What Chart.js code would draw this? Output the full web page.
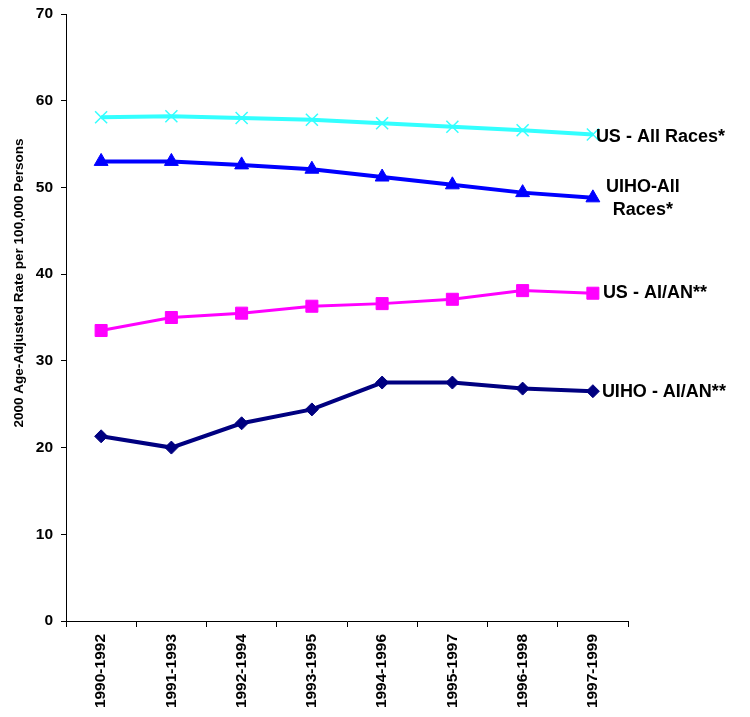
<!DOCTYPE html>
<html>
<head>
<meta charset="utf-8">
<script src="https://cdn.jsdelivr.net/npm/chart.js@4/dist/chart.umd.min.js"></script>
<style>
  html, body { margin: 0; padding: 0; background: #fff; }
  #wrap { width: 750px; height: 717px; }
</style>
</head>
<body>
<div id="wrap"><canvas id="rateChart" width="750" height="717"></canvas></div>
<script>
// periods on the x axis
const periods = ['1990-1992', '1991-1993', '1992-1994', '1993-1995', '1994-1996', '1995-1997', '1996-1998', '1997-1999'];

// age-adjusted rates per 100,000
const usAllRaces   = [58.1, 58.2, 58.0, 57.8, 57.4, 57.0, 56.6, 56.1];
const uihoAllRaces = [53.0, 53.0, 52.6, 52.1, 51.2, 50.3, 49.4, 48.8];
const usAian       = [33.5, 35.0, 35.5, 36.3, 36.6, 37.1, 38.1, 37.8];
const uihoAian     = [21.3, 20.0, 22.8, 24.4, 27.5, 27.5, 26.8, 26.5];

const yTicks = [0, 10, 20, 30, 40, 50, 60, 70];

const FONT = 'Arial, "Liberation Sans", sans-serif';

// end-of-line series labels, drawn next to each line's last point
const seriesLabels = [
  { lines: ['US - All Races*'], dx: 3, dy: 2, align: 'left' },
  { lines: ['UIHO-All', 'Races*'], dx: 50, dy: -11, align: 'center' },
  { lines: ['US - AI/AN**'], dx: 10, dy: 0, align: 'left' },
  { lines: ['UIHO - AI/AN**'], dx: 9, dy: 1, align: 'left' },
];

const endLabels = {
  id: 'endLabels',
  afterDatasetsDraw(chart) {
    const ctx = chart.ctx;
    ctx.save();
    ctx.fillStyle = '#000';
    ctx.font = 'bold 18px ' + FONT;
    ctx.textBaseline = 'middle';
    chart.data.datasets.forEach((ds, i) => {
      const meta = chart.getDatasetMeta(i);
      const pt = meta.data[meta.data.length - 1];
      const lab = seriesLabels[i];
      ctx.textAlign = lab.align;
      lab.lines.forEach((t, k) => {
        ctx.fillText(t, pt.x + lab.dx, pt.y + lab.dy + k * 23);
      });
    });
    ctx.restore();
  }
};

const yTitle = {
  id: 'yTitle',
  afterDraw(chart) {
    const ctx = chart.ctx;
    ctx.save();
    ctx.translate(19, 283);
    ctx.rotate(-Math.PI / 2);
    ctx.font = 'bold 13.5px ' + FONT;
    ctx.fillStyle = '#000';
    ctx.textAlign = 'center';
    ctx.textBaseline = 'middle';
    ctx.fillText('2000 Age-Adjusted Rate per 100,000 Persons', 0, 0);
    ctx.restore();
  }
};

function series(label, data, color, width, style, radius) {
  return {
    label,
    data,
    borderColor: color,
    backgroundColor: color,
    borderWidth: width,
    pointStyle: style,
    pointRadius: radius,
    pointHoverRadius: radius,
    pointBorderWidth: style === 'crossRot' ? 1.5 : 1,
    pointBackgroundColor: color,
    pointBorderColor: color,
    tension: 0,
  };
}

new Chart(document.getElementById('rateChart'), {
  type: 'line',
  data: {
    labels: periods,
    datasets: [
      series('US - All Races*', usAllRaces, '#33ffff', 4, 'crossRot', 8.5),
      series('UIHO-All Races*', uihoAllRaces, '#0000ff', 4, 'triangle', 8),
      series('US - AI/AN**', usAian, '#ff00ff', 3, 'rect', 8.5),
      series('UIHO - AI/AN**', uihoAian, '#000080', 4, 'rectRot', 6.5),
    ],
  },
  options: {
    responsive: false,
    animation: false,
    layout: { padding: { left: 0, right: 122, top: 14, bottom: 0 } },
    plugins: {
      legend: { display: false },
      tooltip: { enabled: false },
    },
    scales: {
      x: {
        offset: true,
        grid: { offset: true, drawOnChartArea: false, tickLength: 6, color: '#000', tickColor: '#000' },
        border: { color: '#000', width: 1 },
        ticks: {
          color: '#000',
          font: { family: FONT, size: 15.5, weight: 'bold' },
          minRotation: 90,
          maxRotation: 90,
          padding: 7,
          autoSkip: false,
        },
        afterFit: s => { s.height = 96; },
      },
      y: {
        min: 0,
        max: 70,
        afterBuildTicks: s => { s.ticks = yTicks.map(v => ({ value: v })); },
        grid: { drawOnChartArea: false, tickLength: 5, color: '#000', tickColor: '#000' },
        border: { color: '#000', width: 1 },
        ticks: {
          color: '#000',
          font: { family: FONT, size: 15.5, weight: 'bold', lineHeight: 1 },
          padding: 8,
        },
        afterFit: s => { s.width = 66; s.paddingTop = 0; },
      },
    },
  },
  plugins: [endLabels, yTitle],
});
</script>
</body>
</html>
